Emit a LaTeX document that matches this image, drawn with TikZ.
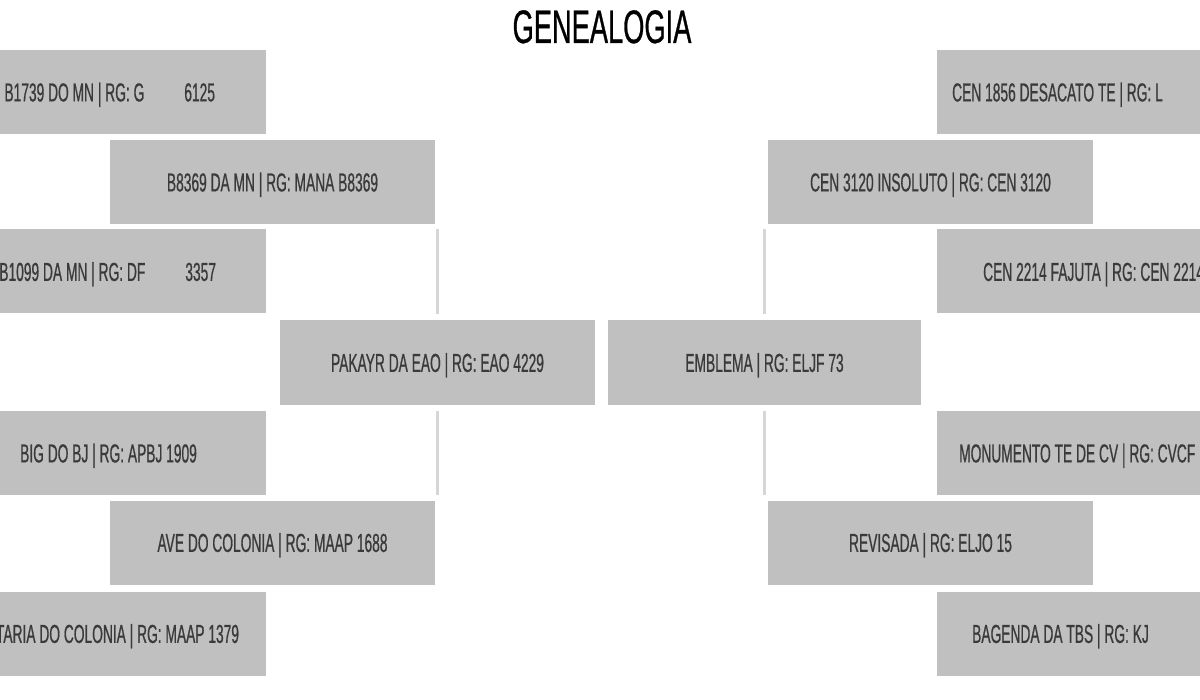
\documentclass[tikz,border=0pt]{standalone}
\usepackage{fontspec}
\usepackage{tikz}
\usetikzlibrary{calc}
\newfontfamily\cardfont[FakeStretch=0.53,FakeBold=0.6]{Liberation Sans}
\newfontfamily\titlefont[FakeStretch=0.58,FakeBold=0.6]{Liberation Sans}
\definecolor{cardgray}{RGB}{192,192,192}
\definecolor{linkgray}{RGB}{214,214,214}
\definecolor{cardink}{RGB}{58,58,58}

\begin{document}
\begin{tikzpicture}[x=1pt,y=-1pt,
  card/.style={fill=cardgray, draw=none, inner sep=0pt, minimum width=325pt, minimum height=84pt,
    font=\cardfont\fontsize{26}{26}\selectfont, text=cardink, text depth=0pt},
  midcard/.style={card, minimum width=315pt, minimum height=85pt},
  cardtext/.style={inner sep=0pt, font=\cardfont\fontsize{26}{26}\selectfont, text=cardink, text depth=0pt},
  link/.style={draw=linkgray, line width=3pt, shorten <=6pt, shorten >=5pt}]
\useasboundingbox[fill=white] (0,0) rectangle (1200,700);
\clip (0,0) rectangle (1200,700);

\node[font=\titlefont\fontsize{47}{47}\selectfont, anchor=base] (title) at (602,43) {GENEALOGIA};

\node[card] (pp) at (103.5,92) {};
\node[card] (pai) at (272.5,182) {B8369 DA MN | RG: MANA B8369};
\node[card] (pm) at (103.5,271.5) {};
\node[midcard] (pakayr) at (437.5,362.5) {PAKAYR DA EAO | RG: EAO 4229};
\node[card] (mp) at (103.5,453) {};
\node[card] (mae) at (272.5,542.5) {AVE DO COLONIA | RG: MAAP 1688};
\node[card] (mm) at (103.5,633.5) {};

\node[cardtext, anchor=east] at ([xshift=-51pt]pp.east) {B1739 DO MN | RG: G\hspace{40pt}6125};
\node[cardtext, anchor=east] at ([xshift=-50pt]pm.east) {B1099 DA MN | RG: DF\hspace{40pt}3357};
\node[cardtext, anchor=west] at (20,453) {BIG DO BJ | RG: APBJ 1909};
\node[cardtext, anchor=east] at ([xshift=-27pt]mm.east) {TARIA DO COLONIA | RG: MAAP 1379};

\node[card] (rpp) at (1099.5,92) {};
\node[card] (rpai) at (930.5,182) {CEN 3120 INSOLUTO | RG: CEN 3120};
\node[card] (rpm) at (1099.5,271.5) {};
\node[midcard, minimum width=313pt] (emblema) at (764.5,362.5) {EMBLEMA | RG: ELJF 73};
\node[card] (rmp) at (1099.5,453) {};
\node[card] (rmae) at (930.5,542.5) {REVISADA | RG: ELJO 15};
\node[card] (rmm) at (1099.5,633.5) {};

\node[cardtext, anchor=west] at (952,92) {CEN 1856 DESACATO TE | RG: L};
\node[cardtext, anchor=west] at (983,271.5) {CEN 2214 FAJUTA | RG: CEN 2214};
\node[cardtext, anchor=west] at (959,453) {MONUMENTO TE DE CV | RG: CVCF};
\node[cardtext, anchor=west] at (972,633.5) {BAGENDA DA TBS | RG: KJ};

\draw[link] (pakayr.north) -- (pakayr.north |- pai.south);
\draw[link] (pakayr.south) -- (pakayr.south |- mae.north);
\draw[link] (emblema.north) -- (emblema.north |- rpai.south);
\draw[link] (emblema.south) -- (emblema.south |- rmae.north);
\end{tikzpicture}
\end{document}
